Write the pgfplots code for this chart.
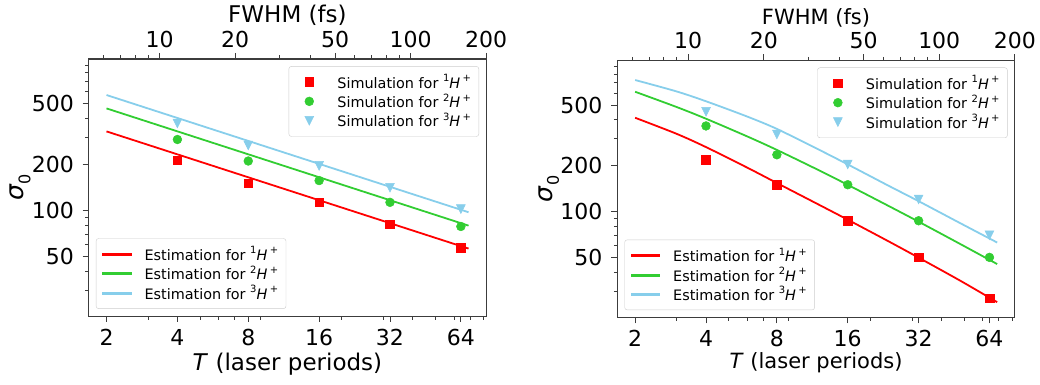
\documentclass[border=0pt]{standalone}
\usepackage{fontspec}
\setmainfont{DejaVu Sans}
\usepackage{pgfplots}
\pgfplotsset{compat=1.18}
\definecolor{cred}{RGB}{255,0,0}
\definecolor{cgreen}{RGB}{50,205,50}
\definecolor{cblue}{RGB}{135,206,235}
\definecolor{framec}{RGB}{60,60,60}

\pgfdeclareplotmark{tridown}{%
  \pgfpathmoveto{\pgfqpoint{0pt}{-\pgfplotmarksize}}%
  \pgfpathlineto{\pgfqpoint{-\pgfplotmarksize}{\pgfplotmarksize}}%
  \pgfpathlineto{\pgfqpoint{\pgfplotmarksize}{\pgfplotmarksize}}%
  \pgfpathclose
  \pgfusepathqfillstroke}

\newcommand{\ion}[1]{\raisebox{0.45em}{\fontsize{10}{10}\selectfont #1}\textit{H}\,\raisebox{0.45em}{\fontsize{10}{10}\selectfont +}}
\newcommand{\tickfont}{\fontsize{22}{24}\selectfont}
\newcommand{\legfont}{\fontsize{14.4}{16}\selectfont}

\begin{document}
\begin{tikzpicture}
\useasboundingbox (0,0) rectangle (1040pt,384pt);

% ===================== LEFT PANEL =====================
\begin{axis}[scale only axis, width=397.5pt, height=257pt, anchor=south west, at={(88.7pt,68pt)},
  xmode=log, ymode=log, xmin=1.68, xmax=82, ymin=20.3, ymax=985,
  axis line style={framec, line width=1pt},
  tick style={framec, line width=0.9pt},
  tick align=outside, major tick length=6pt, minor tick length=3.5pt,
  xtick pos=left, ytick pos=left,
  xtick={2,4,8,16,32,64}, xticklabels={2,4,8,16,32,64},
  minor xtick={3,5,6,7,9,20,30,40,50,60,70,80},
  ytick={50,100,200,500}, yticklabels={50,100,200,500},
  minor ytick={30,40,60,70,80,90,300,400,600,700,800,900},
  tick label style={font=\tickfont},
  xticklabel style={anchor=base, yshift=-23.7pt},
  yticklabel style={anchor=east, inner sep=0pt, xshift=-8.7pt},
  legend cell align=left,
  legend style={at={(0,0)}, anchor=south west, xshift=7.2pt, yshift=7.2pt,
    font=\legfont, draw=black!20, rounded corners=2.5pt,
    fill=white, inner xsep=5.8pt, inner ysep=6pt, row sep=0pt},
  xlabel={\textit{T} (laser periods)},
  xlabel style={at={(axis description cs:0.5,0)}, anchor=base, yshift=-54.3pt, font=\fontsize{23}{26}\selectfont},
  ylabel={\textit{σ}\raisebox{-0.25em}{\fontsize{16}{16}\selectfont 0}},
  ylabel style={at={(axis description cs:0,0.5)}, anchor=base, yshift=64.7pt, font=\fontsize{25}{28}\selectfont},
]
\addlegendimage{legend image code/.code={\fill[cred, sharp corners] (0pt,-0.9pt) rectangle (28.8pt,0.9pt); \path (0pt,0pt) (40.3pt,0pt);}}
\addlegendentry{Estimation for \ion{1}}
\addlegendimage{legend image code/.code={\fill[cgreen, sharp corners] (0pt,-0.9pt) rectangle (28.8pt,0.9pt); \path (0pt,0pt) (40.3pt,0pt);}}
\addlegendentry{Estimation for \ion{2}}
\addlegendimage{legend image code/.code={\fill[cblue, sharp corners] (0pt,-0.9pt) rectangle (28.8pt,0.9pt); \path (0pt,0pt) (40.3pt,0pt);}}
\addlegendentry{Estimation for \ion{3}}
\addplot[cred, line width=1.8pt, forget plot] coordinates {(2,330) (69,56.2)};
\addplot[cgreen, line width=1.8pt, forget plot] coordinates {(2,467) (69,79.5)};
\addplot[cblue, line width=1.8pt, forget plot] coordinates {(2,571.6) (69,97.3)};
\end{axis}

\begin{axis}[scale only axis, width=397.5pt, height=257pt, anchor=south west, at={(88.7pt,68pt)},
  xmode=log, ymode=log, xmin=1.68, xmax=82, ymin=20.3, ymax=985,
  hide axis, clip=false,
  legend cell align=left,
  legend style={at={(1,1)}, anchor=north east, xshift=-7.2pt, yshift=-7.2pt,
    font=\legfont, draw=black!20, rounded corners=2.5pt,
    fill=white, inner xsep=5.8pt, inner ysep=6pt, row sep=0pt},
  legend image code/.code={\draw[#1, /tikz/only marks] plot coordinates {(14.4pt,0pt)}; \path (0pt,0pt) (40.3pt,0pt);},
]
\addplot[only marks, mark=square*, mark size=4.3pt, cred, mark options={line width=0.5pt}]
  coordinates {(4,213) (8,151) (16,113) (32,81) (64,57)};
\addlegendentry{Simulation for \ion{1}}
\addplot[only marks, mark=*, mark size=4.4pt, cgreen, mark options={line width=0.5pt}]
  coordinates {(4,292) (8,211) (16,157) (32,113) (64,78.5)};
\addlegendentry{Simulation for \ion{2}}
\addplot[only marks, mark=tridown, mark size=4.4pt, cblue, mark options={line width=0.5pt}]
  coordinates {(4,372) (8,267) (16,196) (32,141) (64,102)};
\addlegendentry{Simulation for \ion{3}}
\end{axis}

\begin{axis}[scale only axis, width=397.5pt, height=257pt, anchor=south west, at={(88.7pt,68pt)},
  xmode=log, xmin=5.22, xmax=200, ymin=0, ymax=1,
  axis x line*=top, axis y line=none,
  x axis line style={-, framec, line width=1pt},
  tick style={framec, line width=0.9pt},
  tick align=outside, major tick length=6pt, minor tick length=3.5pt,
  xtick={10,20,50,100,200}, xticklabels={10,20,50,100,200},
  minor xtick={6,7,8,9,30,40,60,70,80,90},
  tick label style={font=\tickfont},
  xticklabel style={anchor=base, yshift=5.3pt},
  xlabel={FWHM (fs)},
  xlabel style={at={(axis description cs:0.5,1)}, anchor=base, yshift=36.3pt, font=\fontsize{23}{26}\selectfont}]
\addplot[draw=none] coordinates {(10,0.5)};
\end{axis}

% ===================== RIGHT PANEL =====================
\begin{axis}[scale only axis, width=397.5pt, height=257pt, anchor=south west, at={(617.3pt,66.7pt)},
  xmode=log, ymode=log, xmin=1.68, xmax=82, ymin=20.2, ymax=985,
  axis line style={framec, line width=1pt},
  tick style={framec, line width=0.9pt},
  tick align=outside, major tick length=6pt, minor tick length=3.5pt,
  xtick pos=left, ytick pos=left,
  xtick={2,4,8,16,32,64}, xticklabels={2,4,8,16,32,64},
  minor xtick={3,5,6,7,9,20,30,40,50,60,70,80},
  ytick={50,100,200,500}, yticklabels={50,100,200,500},
  minor ytick={30,40,60,70,80,90,300,400,600,700,800,900},
  tick label style={font=\tickfont},
  xticklabel style={anchor=base, yshift=-23.7pt},
  yticklabel style={anchor=east, inner sep=0pt, xshift=-8.7pt},
  legend cell align=left,
  legend style={at={(0,0)}, anchor=south west, xshift=7.2pt, yshift=7.2pt,
    font=\legfont, draw=black!20, rounded corners=2.5pt,
    fill=white, inner xsep=5.8pt, inner ysep=6pt, row sep=0pt},
  xlabel={\textit{T} (laser periods)},
  xlabel style={at={(axis description cs:0.5,0)}, anchor=base, yshift=-51.4pt, font=\fontsize{21}{24}\selectfont},
  ylabel={\textit{σ}\raisebox{-0.25em}{\fontsize{16}{16}\selectfont 0}},
  ylabel style={at={(axis description cs:0,0.5)}, anchor=base, yshift=64.7pt, font=\fontsize{25}{28}\selectfont},
]
\addlegendimage{legend image code/.code={\fill[cred, sharp corners] (0pt,-0.9pt) rectangle (28.8pt,0.9pt); \path (0pt,0pt) (40.3pt,0pt);}}
\addlegendentry{Estimation for \ion{1}}
\addlegendimage{legend image code/.code={\fill[cgreen, sharp corners] (0pt,-0.9pt) rectangle (28.8pt,0.9pt); \path (0pt,0pt) (40.3pt,0pt);}}
\addlegendentry{Estimation for \ion{2}}
\addlegendimage{legend image code/.code={\fill[cblue, sharp corners] (0pt,-0.9pt) rectangle (28.8pt,0.9pt); \path (0pt,0pt) (40.3pt,0pt);}}
\addlegendentry{Estimation for \ion{3}}
\addplot[cred, line width=1.8pt, smooth, forget plot] coordinates {(2,413) (3,324) (4,265) (6,194) (8,154) (12,111.4) (16,88.4) (24,63.4) (32,49.8) (48,35.2) (69,25.4)};
\addplot[cgreen, line width=1.8pt, smooth, forget plot] coordinates {(2,612) (3,486) (4,407) (6,311) (8,254) (12,187.5) (16,149.8) (24,108.3) (32,85.8) (48,61.3) (69,45.2)};
\addplot[cblue, line width=1.8pt, smooth, forget plot] coordinates {(2,731) (3,615) (4,530) (6,420) (8,349) (12,256) (16,204) (24,147) (32,117) (48,84) (69,62.6)};
\end{axis}

\begin{axis}[scale only axis, width=397.5pt, height=257pt, anchor=south west, at={(617.3pt,66.7pt)},
  xmode=log, ymode=log, xmin=1.68, xmax=82, ymin=20.2, ymax=985,
  hide axis, clip=false,
  legend cell align=left,
  legend style={at={(1,1)}, anchor=north east, xshift=-7.2pt, yshift=-7.2pt,
    font=\legfont, draw=black!20, rounded corners=2.5pt,
    fill=white, inner xsep=5.8pt, inner ysep=6pt, row sep=0pt},
  legend image code/.code={\draw[#1, /tikz/only marks] plot coordinates {(14.4pt,0pt)}; \path (0pt,0pt) (40.3pt,0pt);},
]
\addplot[only marks, mark=square*, mark size=4.3pt, cred, mark options={line width=0.5pt}]
  coordinates {(4,218) (8,150) (16,87) (32,50) (64,27)};
\addlegendentry{Simulation for \ion{1}}
\addplot[only marks, mark=*, mark size=4.4pt, cgreen, mark options={line width=0.5pt}]
  coordinates {(4,365) (8,236) (16,150) (32,87) (64,50)};
\addlegendentry{Simulation for \ion{2}}
\addplot[only marks, mark=tridown, mark size=4.4pt, cblue, mark options={line width=0.5pt}]
  coordinates {(4,452) (8,321) (16,204) (32,120) (64,69.8)};
\addlegendentry{Simulation for \ion{3}}
\end{axis}

\begin{axis}[scale only axis, width=397.5pt, height=257pt, anchor=south west, at={(617.3pt,66.7pt)},
  xmode=log, xmin=5.22, xmax=200, ymin=0, ymax=1,
  axis x line*=top, axis y line=none,
  x axis line style={-, framec, line width=1pt},
  tick style={framec, line width=0.9pt},
  tick align=outside, major tick length=6pt, minor tick length=3.5pt,
  xtick={10,20,50,100,200}, xticklabels={10,20,50,100,200},
  minor xtick={6,7,8,9,30,40,60,70,80,90},
  tick label style={font=\tickfont},
  xticklabel style={anchor=base, yshift=5.3pt},
  xlabel={FWHM (fs)},
  xlabel style={at={(axis description cs:0.5,1)}, anchor=base, yshift=36pt, font=\fontsize{21}{24}\selectfont}]
\addplot[draw=none] coordinates {(10,0.5)};
\end{axis}
\end{tikzpicture}
\end{document}
